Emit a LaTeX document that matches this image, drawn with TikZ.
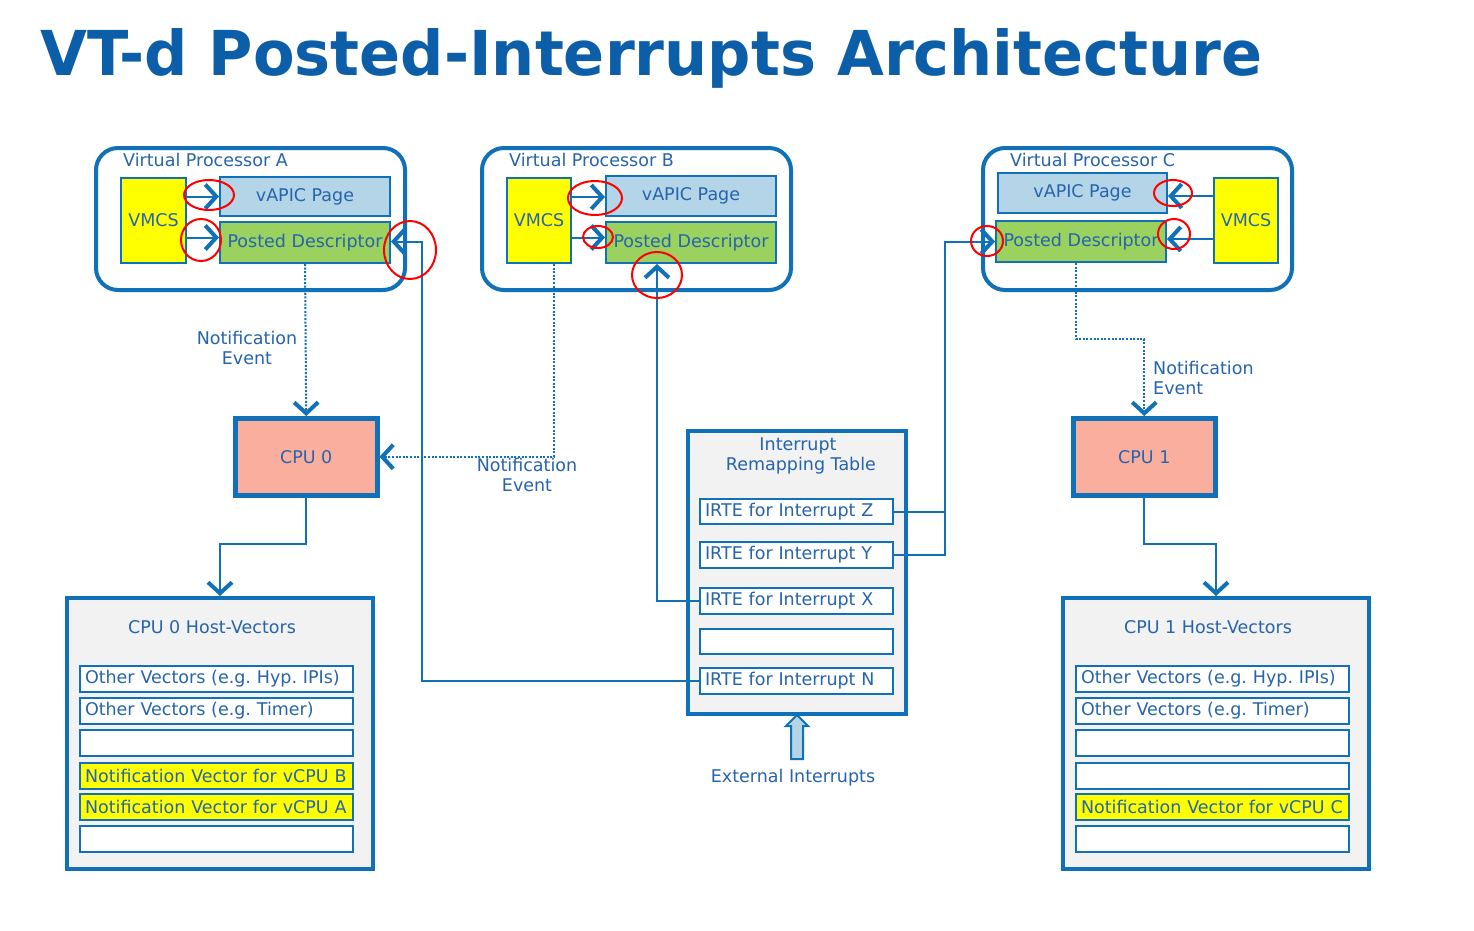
\documentclass[tikz,border=0pt]{standalone}
\usepackage{fontspec}
\setmainfont{DejaVu Sans}
\usetikzlibrary{arrows.meta}
\definecolor{ln}{RGB}{16,112,184}
\definecolor{tx}{RGB}{38,100,172}
\definecolor{ttl}{RGB}{12,94,168}
\definecolor{vapic}{RGB}{180,212,232}
\definecolor{pdgreen}{RGB}{155,210,95}
\definecolor{vmcsy}{RGB}{255,255,0}
\definecolor{cpuc}{RGB}{249,174,158}
\definecolor{grayf}{RGB}{242,242,242}
\tikzset{
  vp/.style={draw=ln, line width=4pt, rounded corners=22pt, anchor=north west, inner sep=0pt},
  inbox/.style={draw=ln, line width=2pt, anchor=north west, inner sep=0pt},
  vmcsbox/.style={inbox, fill=vmcsy},
  vapicbox/.style={inbox, fill=vapic},
  pdbox/.style={inbox, fill=pdgreen},
  cpubox/.style={draw=ln, line width=4.5pt, fill=cpuc, anchor=north west, inner sep=0pt, minimum width=142pt, minimum height=77pt},
  hvbox/.style={draw=ln, line width=4pt, fill=grayf, anchor=north west, inner sep=0pt},
  row/.style={draw=ln, line width=2pt, fill=white, anchor=north west, minimum height=26pt, inner xsep=5pt, inner ysep=0pt, align=left},
  hvrow/.style={row, text width=263pt},
  irrow/.style={row, text width=183pt},
  conn/.style={draw=ln, line width=2pt},
  arr/.style={conn, -{Straight Barb[length=11pt,width=24pt,line width=4pt]}},
  dotarr/.style={arr, dash pattern=on 2pt off 1.6pt},
  lbl/.style={inner sep=0pt, align=center},
  redmark/.style={draw=red, line width=2pt},
}
\frenchspacing
\begin{document}
\begin{tikzpicture}[x=1pt,y=-1pt, font=\fontsize{17.5}{19.5}\selectfont, text=tx]
\useasboundingbox (0,0) rectangle (1474,930);
\fill[white] (0,0) rectangle (1474,930);

% title
\node[anchor=base west, inner sep=0pt, text=ttl] (title) at (40,75) {\resizebox{1222pt}{47pt}{\bfseries VT-d Posted-Interrupts Architecture}};

% ---------- Virtual Processor A
\node[vp, minimum width=309pt, minimum height=142pt] (vpA) at (94,146) {};
\node[anchor=west, inner sep=0pt] (vpAl) at (123,160) {Virtual Processor A};
\node[vmcsbox, minimum width=65pt, minimum height=85pt] (vmcsA) at (120,177) {VMCS};
\node[vapicbox, minimum width=170pt, minimum height=39pt] (vapicA) at (219,176) {vAPIC Page};
\node[pdbox, minimum width=170pt, minimum height=41pt] (pdA) at (219,221) {Posted Descriptor};
\coordinate (pdAin) at ([yshift=5pt]pdA.west);
\draw[arr] (vmcsA.east |- vapicA.west) -- (vapicA.west);
\draw[arr] (vmcsA.east |- pdAin) -- (pdAin);

% ---------- Virtual Processor B
\node[vp, minimum width=309pt, minimum height=142pt] (vpB) at (480,146) {};
\node[anchor=west, inner sep=0pt] (vpBl) at (509,160) {Virtual Processor B};
\node[vmcsbox, minimum width=64pt, minimum height=85pt] (vmcsB) at (506,177) {VMCS};
\node[vapicbox, minimum width=170pt, minimum height=40pt] (vapicB) at (605,175) {vAPIC Page};
\node[pdbox, minimum width=170pt, minimum height=41pt] (pdB) at (605,221) {Posted Descriptor};
\coordinate (vapicBin) at ([yshift=-1pt]vapicB.west);
\coordinate (pdBin) at ([yshift=5pt]pdB.west);
\draw[arr] (vmcsB.east |- vapicBin) -- (vapicBin);
\draw[arr] (vmcsB.east |- pdBin) -- (pdBin);

% ---------- Virtual Processor C
\node[vp, minimum width=309pt, minimum height=142pt] (vpC) at (981,146) {};
\node[anchor=west, inner sep=0pt] (vpCl) at (1010,160) {Virtual Processor C};
\node[vapicbox, minimum width=169pt, minimum height=40pt] (vapicC) at (997,172) {vAPIC Page};
\node[pdbox, minimum width=170pt, minimum height=41pt] (pdC) at (995,220) {Posted Descriptor};
\node[vmcsbox, minimum width=64pt, minimum height=85pt] (vmcsC) at (1213,177) {VMCS};
\coordinate (vapicCin) at ([yshift=-3pt]vapicC.east);
\coordinate (pdCin) at ([yshift=2.5pt]pdC.east);
\draw[arr] (vmcsC.west |- vapicCin) -- (vapicCin);
\draw[arr] (vmcsC.west |- pdCin) -- (pdCin);

% ---------- CPUs
\node[cpubox] (cpu0) at (233,416) {CPU 0};
\node[cpubox] (cpu1) at (1071,416) {CPU 1};

% ---------- Host vectors CPU 0
\node[hvbox, minimum width=306pt, minimum height=271pt] (hv0) at (65,596) {};
\node[inner sep=0pt] (hv0t) at (212,627) {CPU 0 Host-Vectors};
\node[hvrow] (hv0r1) at (79,665) {Other Vectors (e.g. Hyp. IPIs)};
\node[hvrow] (hv0r2) at (79,697) {Other Vectors (e.g. Timer)};
\node[hvrow] (hv0r3) at (79,729) {};
\node[hvrow, fill=vmcsy] (hv0r4) at (79,762) {Notification Vector for vCPU B};
\node[hvrow, fill=vmcsy] (hv0r5) at (79,793) {Notification Vector for vCPU A};
\node[hvrow] (hv0r6) at (79,825) {};

% ---------- Host vectors CPU 1
\node[hvbox, minimum width=306pt, minimum height=271pt] (hv1) at (1061,596) {};
\node[inner sep=0pt] (hv1t) at (1208,627) {CPU 1 Host-Vectors};
\node[hvrow] (hv1r1) at (1075,665) {Other Vectors (e.g. Hyp. IPIs)};
\node[hvrow] (hv1r2) at (1075,697) {Other Vectors (e.g. Timer)};
\node[hvrow] (hv1r3) at (1075,729) {};
\node[hvrow] (hv1r4) at (1075,762) {};
\node[hvrow, fill=vmcsy] (hv1r5) at (1075,793) {Notification Vector for vCPU C};
\node[hvrow] (hv1r6) at (1075,825) {};

% ---------- Interrupt remapping table
\node[hvbox, minimum width=218pt, minimum height=283pt] (irt) at (686,429) {};
\node[lbl] (irtt) at (798,456) {Interrupt\\ \,\,Remapping Table};
\node[irrow, minimum height=25pt] (irteZ) at (699,498) {IRTE for Interrupt Z};
\node[irrow] (irteY) at (699,541) {IRTE for Interrupt Y};
\node[irrow] (irteX) at (699,587) {IRTE for Interrupt X};
\node[irrow, minimum height=25pt] (irteE) at (699,628) {};
\node[irrow] (irteN) at (699,667) {IRTE for Interrupt N};

% external interrupts
\draw[draw=ln, line width=2pt, fill=vapic, line join=miter]
  (797,715) -- (808,726) -- (803,726) -- (803,759) -- (791,759) -- (791,726) -- (786,726) -- cycle;
\node[inner sep=0pt] (extl) at (793,778) {External Interrupts};

% ---------- coordinates for bends
\coordinate (xA) at (422,0);
\coordinate (xB) at (657,0);
\coordinate (xC) at (945,0);
\coordinate (dB) at (554,0);
\coordinate (yC) at (0,339);
\coordinate (yH) at (0,544);
\coordinate (pdAout) at ([yshift=1pt]pdA.east);
\coordinate (pdCbot) at ([xshift=-5pt]pdC.south);

% ---------- IRTE connectors
\draw[arr] (irteN.west) -| (xA |- pdAout) -- (pdAout);
\draw[arr] (irteX.west) -| (xB |- pdB.south);
\draw[conn] (irteZ.east) -- (xC |- irteZ.east);
\draw[arr] (irteY.east) -| (xC |- pdC.west) -- (pdC.west);

% ---------- notification events (dotted)
\draw[dotarr] (pdA.south) -- (cpu0.north);
\draw[dotarr] (dB |- vmcsB.south) -- (dB |- cpu0.east) -- (cpu0.east);
\draw[dotarr] (pdCbot) -- (pdCbot |- yC) -| (cpu1.north);
\node[lbl] (neA) at (247,348) {Notification\\Event};
\node[lbl] (neB) at (527,475) {Notification\\Event};
\node[lbl, align=left, anchor=west] (neC) at (1153,378) {Notification\\Event};

% ---------- CPU to host vectors
\draw[arr] (cpu0.south) |- (hv0.north |- yH) -- (hv0.north);
\draw[arr] (cpu1.south) |- (hv1.north |- yH) -- (hv1.north);

% ---------- red hand-drawn marks
\draw[redmark] (209,195) ellipse [x radius=25pt, y radius=15pt];
\draw[redmark] (201,240) ellipse [x radius=20pt, y radius=21pt];
\draw[redmark] (410,250) ellipse [x radius=26pt, y radius=29pt];
\draw[redmark] (595,198) ellipse [x radius=27pt, y radius=17pt];
\draw[redmark] (598,237) ellipse [x radius=15pt, y radius=11pt];
\draw[redmark] (657,275) ellipse [x radius=25pt, y radius=23pt];
\draw[redmark] (1173,193) ellipse [x radius=19pt, y radius=13pt];
\draw[redmark] (1174,234) ellipse [x radius=16pt, y radius=15pt];
\draw[redmark] (987,241) ellipse [x radius=16pt, y radius=15pt];
\end{tikzpicture}
\end{document}
